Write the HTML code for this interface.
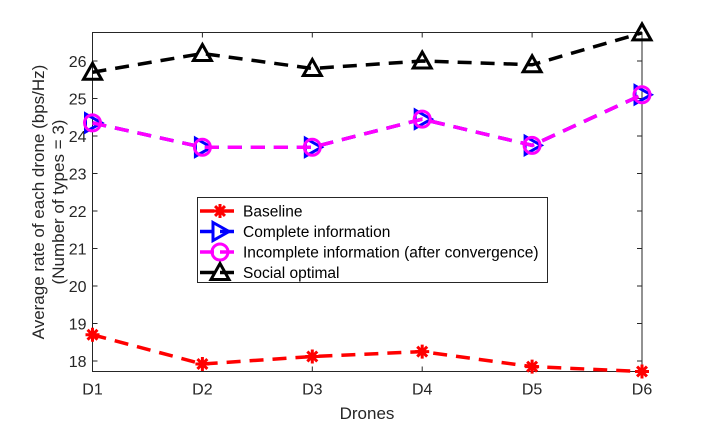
<!DOCTYPE html>
<html><head><meta charset="utf-8"><style>body{margin:0;background:#fff}svg{font-family:"Liberation Sans",sans-serif}</style></head>
<body>
<svg id="chart" width="710" height="426" xmlns="http://www.w3.org/2000/svg"></svg>
<script>
const categories=["D1","D2","D3","D4","D5","D6"];
const baseline=[18.7,17.92,18.12,18.25,17.85,17.72];
const complete=[24.35,23.7,23.7,24.45,23.75,25.1];
const incomplete=[24.35,23.7,23.7,24.45,23.75,25.1];
const social=[25.7,26.2,25.8,26.0,25.9,26.75];
const yTicks=[18,19,20,21,22,23,24,25,26];
const L=92.5,R=642,T=32.5,B=371.5;
const x=i=>L+i*(R-L)/(categories.length-1);
const y=v=>361-(v-18)*37.5;
const NS="http://www.w3.org/2000/svg";
const svg=document.getElementById('chart');
function mk(t,a,p){const e=document.createElementNS(NS,t);for(const k in a)e.setAttribute(k,a[k]);(p||svg).appendChild(e);return e;}
const axes=mk('g',{});


mk('rect',{x:L,y:T,width:R-L,height:B-T,fill:'none',stroke:'#262626','stroke-width':1},axes);
yTicks.forEach(v=>{
 mk('line',{x1:L,x2:L+5,y1:y(v),y2:y(v),stroke:'#262626'},axes);
 mk('line',{x1:R,x2:R-5,y1:y(v),y2:y(v),stroke:'#262626'},axes);
 const t=mk('text',{x:L-6,y:y(v)+6,'text-anchor':'end','font-size':16,fill:'#262626'},axes);t.textContent=v;
 
 
});
categories.forEach((c,i)=>{
 mk('line',{x1:x(i),x2:x(i),y1:B,y2:B-5,stroke:'#262626'},axes);
 mk('line',{x1:x(i),x2:x(i),y1:T,y2:T+5,stroke:'#262626'},axes);
 const t=mk('text',{x:x(i),y:B+23,'text-anchor':'middle','font-size':16,fill:'#262626'},axes);t.textContent=c;
 
 
});
const xt=mk('text',{x:367,y:419,'text-anchor':'middle','font-size':17,fill:'#262626'});xt.textContent='Drones';


const yt=mk('text',{'text-anchor':'middle','font-size':17,fill:'#262626'});


const t1=mk('tspan',{x:-202,y:44},yt);t1.textContent='Average rate of each drone (bps/Hz)';
const t2=mk('tspan',{x:-202,y:64},yt);t2.textContent='(Number of types = 3)';
yt.setAttribute('transform','rotate(-90)');
function marker(g,type,cx,cy,col){
 if(type==='star'){for(let a=0;a<4;a++){const an=a*Math.PI/4;mk('line',{x1:cx-7*Math.cos(an),y1:cy-7*Math.sin(an),x2:cx+7*Math.cos(an),y2:cy+7*Math.sin(an),stroke:col,'stroke-width':3},g);}mk('circle',{cx,cy,r:4,fill:col},g);}
 else if(type==='tri-r'){mk('polygon',{points:`${cx-7},${cy-9} ${cx+9},${cy} ${cx-7},${cy+9}`,fill:'none',stroke:col,'stroke-width':3},g);}
 else if(type==='circ'){mk('circle',{cx,cy,r:8,fill:'none',stroke:col,'stroke-width':3},g);}
 else {mk('polygon',{points:`${cx},${cy-9} ${cx+9},${cy+7} ${cx-9},${cy+7}`,fill:'none',stroke:col,'stroke-width':3},g);}
}
const series=[[baseline,'#ff0000','star','baseline'],[complete,'#0000ff','tri-r','complete-information'],[incomplete,'#ff00ff','circ','incomplete-information'],[social,'#000000','tri-u','social-optimal']];
series.forEach(([d,col,m,name])=>{
 const g=mk('g',{});
 
 
 mk('polyline',{points:d.map((v,i)=>x(i)+','+y(v)).join(' '),fill:'none',stroke:col,'stroke-width':3.5,'stroke-dasharray':'14 9'},g);
 d.forEach((v,i)=>marker(g,m,x(i),y(v),col));
});
const lg=mk('g',{});


mk('rect',{x:197.5,y:197.5,width:350,height:85,fill:'#fff',stroke:'#262626'},lg);
const labels=['Baseline','Complete information','Incomplete information (after convergence)','Social optimal'];
series.forEach(([d,col,m,name],k)=>{
 const yy=211+k*20.5;
 const e=mk('g',{},lg);
 
 
 mk('line',{x1:200,x2:240,y1:yy,y2:yy,stroke:col,'stroke-width':3.5,'stroke-dasharray':'14 6'},e);
 marker(e,m,220,yy,col);
 const t=mk('text',{x:243,y:yy+5.5,'font-size':15.5,fill:'#000'},e);t.textContent=labels[k];
});
</script>
</body></html>
